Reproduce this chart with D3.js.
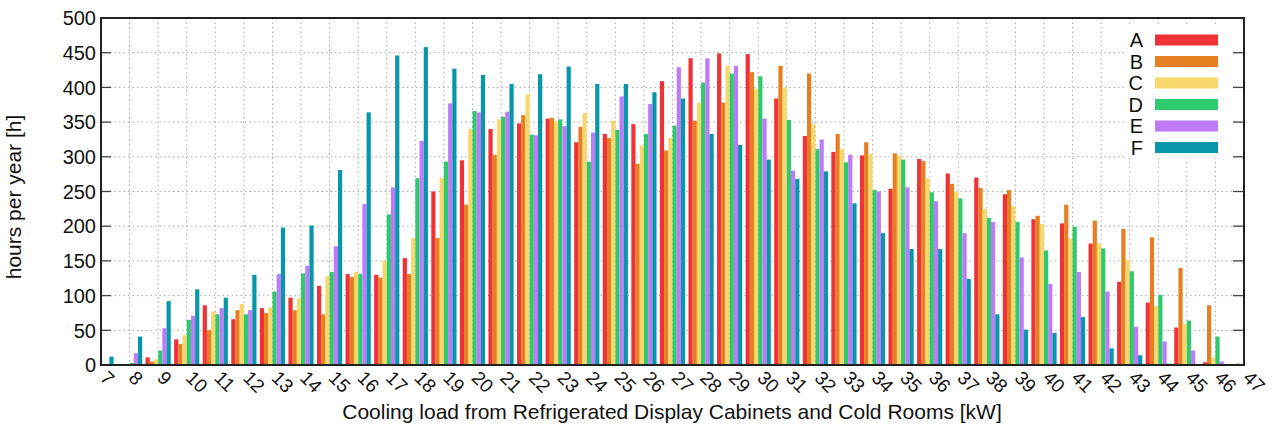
<!DOCTYPE html>
<html>
<head>
<meta charset="utf-8">
<script src="https://cdn.jsdelivr.net/npm/d3@7"></script>
<style>
  body { margin: 0; background: #fff; }
  svg { font-family: "Liberation Sans", Arial, sans-serif; }
</style>
</head>
<body>
<div id="chart"></div>
<script>
// x categories (kW), 7 .. 47
var categories = d3.range(7, 48);
var seriesNames = ["A", "B", "C", "D", "E", "F"];
var seriesColors = ["#ef3236", "#e67e22", "#f8d86c", "#2ecb6e", "#bd7bf8", "#0796aa"];

var A = [0, 0, 11, 37, 86, 66, 82, 97, 114, 131, 130, 154, 250, 295, 340, 348, 355, 321, 333, 347, 409, 442, 449, 448, 384, 330, 307, 302, 254, 297, 276, 270, 246, 210, 204, 175, 120, 90, 54, 4, 0];
var B = [0, 0, 5, 30, 50, 79, 75, 79, 73, 127, 126, 131, 183, 231, 303, 360, 356, 343, 327, 290, 309, 352, 378, 422, 431, 420, 333, 321, 305, 294, 261, 255, 252, 215, 231, 208, 196, 184, 140, 86, 2];
var C = [0, 0, 8, 43, 77, 88, 83, 96, 128, 134, 150, 183, 270, 340, 354, 390, 351, 363, 352, 316, 327, 378, 431, 398, 400, 347, 311, 304, 302, 269, 250, 225, 229, 203, 182, 175, 152, 85, 59, 11, 0];
var D = [0, 3, 21, 65, 73, 73, 106, 132, 134, 131, 217, 269, 293, 366, 358, 332, 354, 293, 339, 333, 345, 407, 420, 416, 353, 311, 292, 252, 296, 249, 240, 212, 206, 165, 199, 168, 135, 101, 64, 41, 0];
var E = [0, 17, 53, 71, 82, 79, 131, 143, 171, 232, 256, 323, 377, 364, 365, 331, 344, 335, 387, 376, 429, 442, 431, 355, 280, 325, 303, 250, 256, 236, 190, 206, 155, 117, 134, 106, 55, 34, 21, 5, 0];
var F = [12, 41, 92, 109, 97, 130, 198, 201, 281, 364, 446, 458, 427, 418, 405, 419, 430, 405, 405, 393, 384, 333, 317, 296, 268, 279, 233, 190, 167, 167, 124, 73, 51, 46, 69, 24, 14, 2, 0, 0, 0];
var series = [A, B, C, D, E, F];

var yTicks = d3.range(0, 501, 50);

var W = 1274, H = 428;
var pl = 101, pr = 1244, pt = 18, pb = 365;   // plot box

var svg = d3.select("#chart")
    .append("svg")
    .attr("width", W)
    .attr("height", H);

var x = d3.scaleLinear().domain([7, 47]).range([pl, pr]);
var y = d3.scaleLinear().domain([0, 500]).range([pb, pt]);
var unit = x(8) - x(7);
var barW = unit * 0.147;

svg.append("clipPath").attr("id", "plotclip")
    .append("rect")
    .attr("x", pl).attr("y", pt)
    .attr("width", pr - pl).attr("height", pb - pt);

// grid (dotted)
var grid = svg.append("g")
    .attr("stroke", "#a8a8a8")
    .attr("stroke-width", 1)
    .attr("stroke-dasharray", "1.5,3");
grid.selectAll("line.h")
    .data(yTicks.slice(1, -1))
    .enter().append("line")
    .attr("x1", pl).attr("x2", pr)
    .attr("y1", function(d) { return y(d); })
    .attr("y2", function(d) { return y(d); });
grid.selectAll("line.v")
    .data(categories.slice(1, -1))
    .enter().append("line")
    .attr("y1", pt).attr("y2", pb)
    .attr("x1", function(d) { return x(d); })
    .attr("x2", function(d) { return x(d); });

// bars
var bars = svg.append("g").attr("clip-path", "url(#plotclip)");
series.forEach(function(vals, si) {
    bars.append("g")
        .attr("fill", seriesColors[si])
        .selectAll("rect")
        .data(vals)
        .enter().append("rect")
        .attr("x", function(d, i) { return x(categories[i]) + (si - 3) * barW; })
        .attr("width", barW)
        .attr("y", function(d) { return y(d); })
        .attr("height", function(d) { return y(0) - y(d); });
});

// legend with white backing
var lg = svg.append("g");
lg.append("rect")
    .attr("x", 1124).attr("y", 27)
    .attr("width", 108).attr("height", 131)
    .attr("fill", "#fff");
seriesNames.forEach(function(name, i) {
    var cy = 40 + i * 21.5;
    lg.append("text")
        .attr("x", 1143).attr("y", cy)
        .attr("dy", "0.36em")
        .attr("text-anchor", "end")
        .style("font-size", "20px")
        .attr("fill", "#111")
        .text(name);
    lg.append("rect")
        .attr("x", 1155).attr("y", cy - 5.5)
        .attr("width", 63).attr("height", 11)
        .attr("fill", seriesColors[i]);
});

// y tick marks, left and right (inward)
var ticks = svg.append("g").attr("stroke", "#444").attr("stroke-width", 1.3);
ticks.selectAll("line.l")
    .data(yTicks.slice(1, -1))
    .enter().append("line")
    .attr("x1", pl).attr("x2", pl + 10)
    .attr("y1", function(d) { return y(d); })
    .attr("y2", function(d) { return y(d); });
ticks.selectAll("line.r")
    .data(yTicks.slice(1, -1))
    .enter().append("line")
    .attr("x1", pr - 11).attr("x2", pr)
    .attr("y1", function(d) { return y(d); })
    .attr("y2", function(d) { return y(d); });

// frame
svg.append("rect")
    .attr("x", pl).attr("y", pt)
    .attr("width", pr - pl).attr("height", pb - pt)
    .attr("fill", "none")
    .attr("stroke", "#222")
    .attr("stroke-width", 2);

// y tick labels
svg.append("g").selectAll("text")
    .data(yTicks)
    .enter().append("text")
    .attr("x", 96)
    .attr("y", function(d) { return y(d); })
    .attr("dy", "0.36em")
    .attr("text-anchor", "end")
    .style("font-size", "20px")
    .attr("fill", "#111")
    .text(function(d) { return d; });

// x tick labels, rotated
svg.append("g").selectAll("text")
    .data(categories)
    .enter().append("text")
    .attr("transform", function(d) { return "translate(" + (x(d) - 2) + ",379) rotate(45)"; })
    .attr("text-anchor", "start")
    .style("font-size", "19px")
    .attr("fill", "#111")
    .text(function(d) { return d; });

// axis titles
svg.append("text")
    .attr("x", 672).attr("y", 419)
    .attr("text-anchor", "middle")
    .style("font-size", "21px")
    .attr("fill", "#111")
    .text("Cooling load from Refrigerated Display Cabinets and Cold Rooms [kW]");

svg.append("text")
    .attr("transform", "translate(21,197) rotate(-90)")
    .attr("text-anchor", "middle")
    .style("font-size", "21px")
    .attr("fill", "#111")
    .text("hours per year [h]");
</script>
</body>
</html>
